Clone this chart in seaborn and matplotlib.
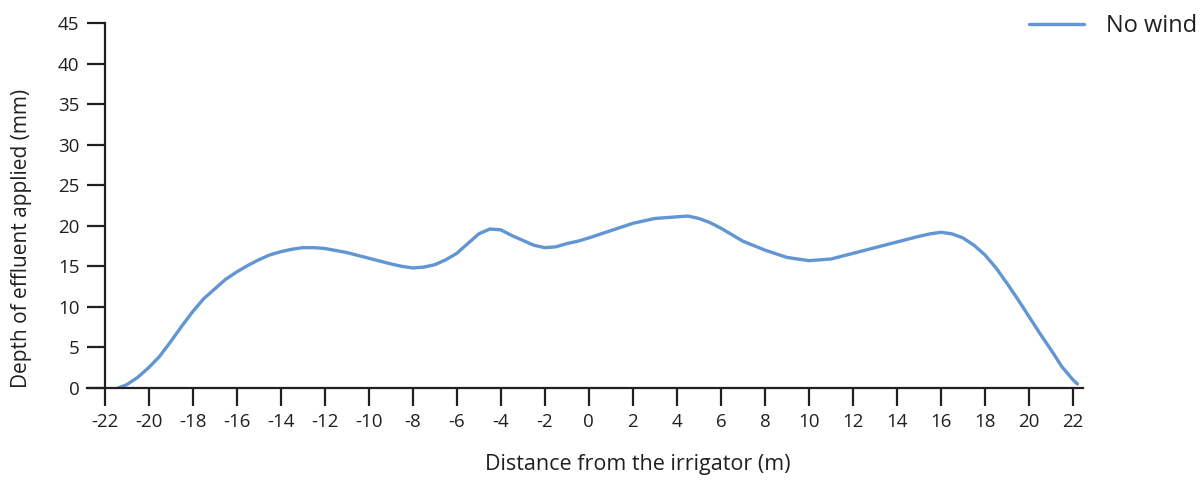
import matplotlib
matplotlib.use("Agg")
import matplotlib.pyplot as plt
import seaborn as sns
import pandas as pd

distance_m = [-21.65, -21, -20.5, -20, -19.5, -19, -18.5, -18, -17.5, -17, -16.5, -16, -15.5, -15,
              -14.5, -14, -13.5, -13, -12.5, -12, -11, -10, -9, -8.5, -8, -7.5, -7, -6.5, -6,
              -5.5, -5, -4.5, -4, -3.5, -3, -2.5, -2, -1.5, -1, -0.5, 0, 1, 2, 3, 4, 4.5, 5,
              5.5, 6, 6.5, 7, 8, 9, 10, 11, 12, 13, 14, 15, 15.5, 16, 16.5, 17, 17.5, 18,
              18.5, 19, 19.5, 20, 20.5, 21, 21.5, 22, 22.2]
depth_mm = [-0.3, 0.4, 1.3, 2.5, 3.9, 5.7, 7.6, 9.4, 11.0, 12.2, 13.4, 14.3, 15.1, 15.8,
            16.4, 16.8, 17.1, 17.3, 17.3, 17.2, 16.7, 16.0, 15.3, 15.0, 14.8, 14.9, 15.2, 15.8, 16.6,
            17.8, 19.0, 19.6, 19.5, 18.8, 18.2, 17.6, 17.3, 17.4, 17.8, 18.1, 18.5, 19.4, 20.3, 20.9, 21.1, 21.2, 20.9,
            20.4, 19.7, 18.9, 18.1, 17.0, 16.1, 15.7, 15.9, 16.6, 17.3, 18.0, 18.7, 19.0, 19.2, 19.0, 18.5, 17.6, 16.4,
            14.8, 12.9, 10.9, 8.8, 6.7, 4.7, 2.6, 1.0, 0.5]
series_label = "No wind"
x_ticks = list(range(-22, 23, 2))
y_ticks = list(range(0, 46, 5))

df = pd.DataFrame({"Distance": distance_m, "Depth": depth_mm})

sns.set_style("white")
plt.rcParams["font.family"] = ["Open Sans", "DejaVu Sans"]
plt.rcParams["axes.unicode_minus"] = False

ink = "#231f20"
fig = plt.figure(figsize=(12.03, 4.8), dpi=100)
ax = fig.add_axes([0.0723, 0.1917, 0.8279, 0.7604])

sns.lineplot(data=df, x="Distance", y="Depth", ax=ax, color="#6195d3",
             linewidth=2.4, label=series_label, legend=False, sort=False)

ax.set_xlim(-22.8, 22.45)
ax.set_ylim(0, 45)
ax.set_xticks(x_ticks)
ax.set_yticks(y_ticks)
ax.set_xticklabels([str(v) for v in x_ticks])
ax.set_yticklabels([str(v) for v in y_ticks])

for s in ["top", "right"]:
    ax.spines[s].set_visible(False)
ax.spines["left"].set_position(("data", -22))
for s in ["left", "bottom"]:
    ax.spines[s].set_color(ink)
    ax.spines[s].set_linewidth(1.6)
ax.tick_params(axis="both", which="major", bottom=True, left=True, direction="out",
               length=13, width=1.6, color=ink, labelsize=13.5, labelcolor=ink)
ax.tick_params(axis="y", pad=5)
ax.tick_params(axis="x", pad=5)

ax.set_xlabel("Distance from the irrigator (m)", fontsize=15.5, color=ink)
ax.set_ylabel("Depth of effluent applied (mm)", fontsize=15, color=ink)
ax.xaxis.set_label_coords(0.553, -0.18)
ax.yaxis.set_label_coords(-0.055, 0.41)

handles, labels = ax.get_legend_handles_labels()
fig.legend(handles, labels, loc="center right", bbox_to_anchor=(0.995, 0.945),
           frameon=False, fontsize=17, handlelength=2.33, handletextpad=0.93,
           borderaxespad=0, borderpad=0, labelcolor=ink)

fig.savefig("out.png", dpi=100)
